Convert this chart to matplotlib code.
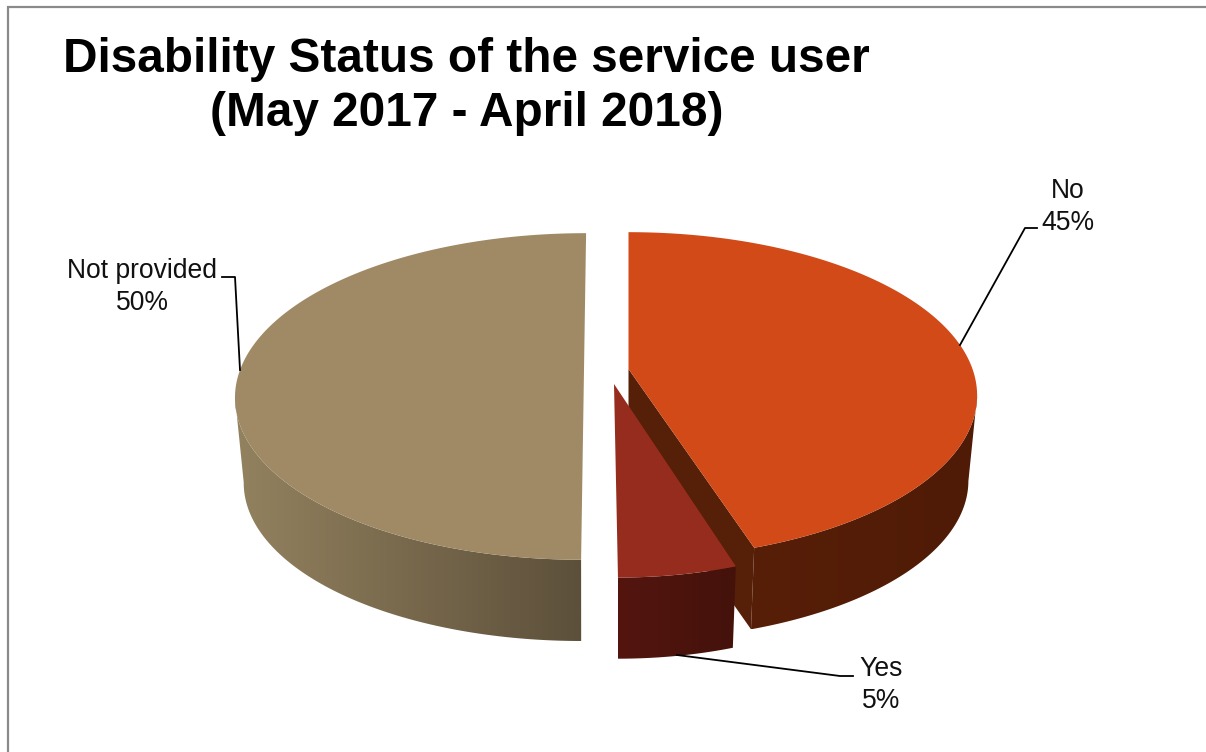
import numpy as np
import matplotlib as mpl
mpl.use("Agg")
import matplotlib.pyplot as plt
from matplotlib.colors import LinearSegmentedColormap
from matplotlib.patches import Polygon

plt.rcParams['font.family'] = ['Liberation Sans', 'DejaVu Sans']

# data
categories = ['No', 'Yes', 'Not provided']
shares = [45, 5, 50]
title_lines = ['Disability Status of the service user', '(May 2017 - April 2018)']

# colors for the top face and the rim
top_colors = ['#D14A17', '#962C1D', '#A08A65']
rim_colors = [('#5C2008', '#4F1B06'), ('#54150F', '#44120B'), ('#93825F', '#5C4F3A')]
cut_color = '#561F08'

# pie geometry, all in pixels
half_width = 344.
half_height = 159.
persp = 0.162
drop = 86.
base_scale = 0.975

# apex x, apex y, x scale, y scale, shear for each slice
placing = [(628.5, 369., 1., 1., 0.),
           (614., 384., 0.94, 1.02, 0.021),
           (584., 370., 1., 1., -0.0153)]
layers = [2, 4, 0]

fig = plt.figure(figsize=(12.06, 7.52), dpi=100)
ax = fig.add_axes([0, 0, 1, 1])


def project(theta, place, lower=False):
    # theta runs clockwise from 12 o'clock, far side shrinks
    x0, y0, sx, sy, shear = place
    w = 1 + persp*np.cos(theta)
    dx = half_width*np.sin(theta)/w
    dy = -half_height*np.cos(theta)/w
    px = sx*dx + shear*dy
    py = sy*dy
    if lower:
        return x0 + base_scale*px, y0 + drop + base_scale*py
    return x0 + px, y0 + py


def draw_slice(i, start, stop):
    place = placing[i]
    layer = layers[i]
    theta = np.linspace(start, stop, 361)
    xt, yt = project(theta, place)

    # cut face that runs from the apex to the end of the arc
    if i == 0:
        xe, ye = project(np.array([stop]), place, lower=True)
        ax.fill([place[0], xt[-1], xe[0], place[0]],
                [place[1], yt[-1], ye[0], place[1] + drop],
                color=cut_color, lw=0, zorder=layer + 0.5)

    # rim on the near side only, up to where the outline turns back
    near = theta[np.cos(theta) < -persp]
    xn, yn = project(near, place)
    xb, yb = project(near, place, lower=True)
    outline = np.c_[np.r_[xn, xb[::-1]], np.r_[yn, yb[::-1]]]
    cmap = LinearSegmentedColormap.from_list('rim%d' % i, rim_colors[i])
    clip = Polygon(outline, closed=True, transform=ax.transData, fc='none', lw=0)
    ax.add_patch(clip)
    # left to right gradient, spanning the whole slice so the shade follows x
    x_lo = min(xt.min(), outline[:, 0].min())
    x_hi = max(xt.max(), outline[:, 0].max())
    img = ax.imshow(np.linspace(0, 1, 256)[None, :], cmap=cmap, aspect='auto',
                    extent=(x_lo, x_hi, outline[:, 1].max(), outline[:, 1].min()),
                    interpolation='bilinear', zorder=layer + 0.6)
    img.set_clip_path(clip)

    # top face
    ax.fill(np.r_[place[0], xt], np.r_[place[1], yt], color=top_colors[i],
            lw=0, zorder=layer + 1)


edges = np.cumsum([0] + shares)/np.sum(shares)*2*np.pi
for i in range(len(shares)):
    draw_slice(i, edges[i], edges[i+1])

ax.axis('off')

# chart frame, only top and left are visible
ax.plot([7.5, 7.5, 1206], [752, 6.5, 6.5], color='#8A8A8A', lw=1.6, zorder=10,
        solid_joinstyle='miter')

# title
ax.text(466.5, 60, title_lines[0], fontsize=34.4, fontweight='bold', ha='center',
        va='center', color='black')
ax.text(466.5, 113, title_lines[1], fontsize=34.4, fontweight='bold', ha='center',
        va='center', color='black')

# data labels and their leader lines
label_pos = [(1068, 207), (881, 685), (142, 287)]
leaders = [([960, 1025, 1037], [345, 228, 228]),
           ([677, 840, 853], [655, 676, 676]),
           ([240, 235, 222], [370, 277, 277])]
for i, name in enumerate(categories):
    ax.text(label_pos[i][0], label_pos[i][1], '%s\n%d%%' % (name, shares[i]),
            fontsize=19.1, ha='center', va='center', color='#111111', linespacing=1.3)
    ax.plot(leaders[i][0], leaders[i][1], color='black', lw=1.3, zorder=9)

ax.set_xlim(0, 1206)
ax.set_ylim(752, 0)

fig.savefig('out.png', dpi=100, facecolor='white')
